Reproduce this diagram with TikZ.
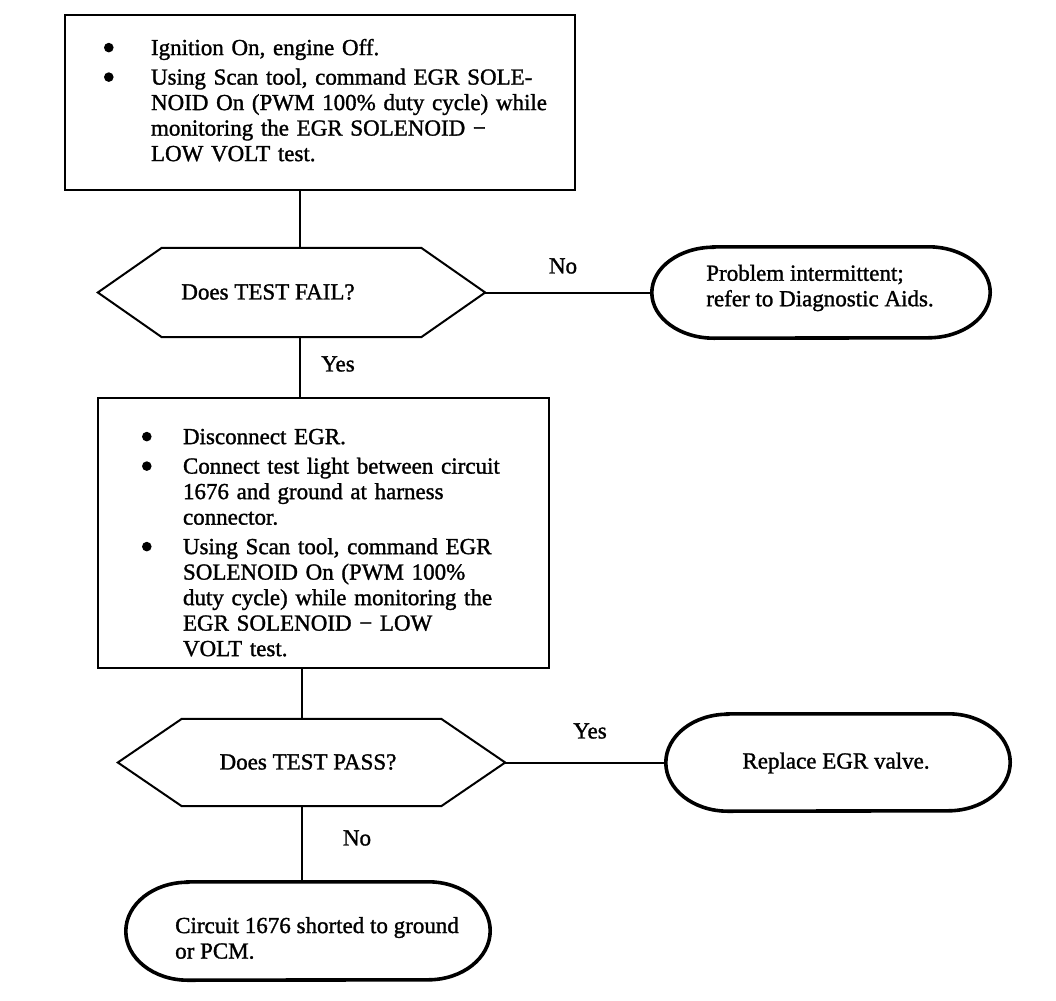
\documentclass[tikz,border=0pt]{standalone}
\usepackage{fontspec}
\setmainfont{Liberation Serif}[RawFeature={embolden=1.3}]
\usetikzlibrary{calc}
\newcommand\bul{\tikz[baseline=-7.5pt]\fill (0pt,0pt) circle (4.8pt);}
\newcommand\mns{\char"2212}
\newcommand\ovalpath[3]{%
  \draw[ovalline] ([xshift=#2]#1.north west) -- ([xshift=-#2]#1.north east)
    arc[start angle=90,end angle=-90,x radius=#2,y radius=#3]
    -- ([xshift=#2]#1.south west)
    arc[start angle=270,end angle=90,x radius=#2,y radius=#3] -- cycle;}
\newcommand\hexpath[2]{%
  \draw[hexline] (#1.west) -- ([xshift=#2]#1.north west) -- ([xshift=-#2]#1.north east)
    -- (#1.east) -- ([xshift=-#2]#1.south east) -- ([xshift=#2]#1.south west) -- cycle;}
\begin{document}
\begin{tikzpicture}[x=1pt,y=-1pt,
  every node/.style={font=\fontsize{23}{25.5}\selectfont},
  boxnode/.style={draw, line width=2pt, align=left, inner ysep=0pt},
  frame/.style={draw=none, inner sep=0pt},
  hexline/.style={line width=2pt, line join=miter},
  ovalline/.style={line width=3.6pt},
  conn/.style={line width=2pt},
  lbl/.style={inner sep=0pt},
  txt/.style={inner sep=0pt, align=left}]
\fill[white] (0,0) rectangle (1056,1000);
\useasboundingbox (0,0) rectangle (1056,1000);

% Box 1
\node[boxnode, text width=432pt, inner xsep=39pt, minimum height=175pt] (b1) at (320,103) {%
\begin{tabular}{@{}p{47pt}@{}l@{}}
\bul & Ignition On, engine Off.\\[4pt]
\bul & Using Scan tool, command EGR SOLE-\\
 & NOID On (PWM 100\% duty cycle) while\\
 & monitoring the EGR SOLENOID \mns\\
 & LOW VOLT test.
\end{tabular}};

% Decision 1
\node[frame, minimum width=387pt, minimum height=89pt] (d1) at (291.5,292.5) {};
\hexpath{d1}{64pt}
\node[lbl] (d1t) at (268,292) {Does TEST FAIL?};

% Oval 1
\node[frame, minimum width=338pt, minimum height=91pt] (o1) at (821,292.5) {};
\ovalpath{o1}{62pt}{45.5pt}
\node[txt] (o1t) at (820,288) {Problem intermittent;\\refer to Diagnostic Aids.};

% Box 2
\node[boxnode, text width=363pt, inner xsep=44pt, minimum height=270pt] (b2) at (323.5,533) {%
\raisebox{-12pt}[\height][\depth]{%
\begin{tabular}{@{}p{41pt}@{}l@{}}
\bul & Disconnect EGR.\\[4pt]
\bul & Connect test light between circuit\\
 & 1676 and ground at harness\\
 & connector.\\[4pt]
\bul & Using Scan tool, command EGR\\
 & SOLENOID On (PWM 100\%\\
 & duty cycle) while monitoring the\\
 & EGR SOLENOID \mns{} LOW\\
 & VOLT test.
\end{tabular}}};

% Decision 2
\node[frame, minimum width=387pt, minimum height=87pt] (d2) at (311.5,762.5) {};
\hexpath{d2}{64pt}
\node[lbl] (d2t) at (308,762) {Does TEST PASS?};

% Oval 2
\node[frame, minimum width=344pt, minimum height=97pt] (o2) at (838,762.5) {};
\ovalpath{o2}{62pt}{48.5pt}
\node[lbl] (o2t) at (836,763) {Replace EGR valve.};

% Oval 3
\node[frame, minimum width=364pt, minimum height=98pt] (o3) at (308,931) {};
\ovalpath{o3}{62pt}{49pt}
\node[txt, anchor=west] (o3t) at (175,938) {Circuit 1676 shorted to ground\\or PCM.};

% Connectors
\coordinate (tx) at (300,0);
\coordinate (ty) at (302,0);
\draw[conn] (tx |- b1.south) -- (tx |- d1.north);
\draw[conn] (d1.east) -- (o1.west);
\draw[conn] (tx |- d1.south) -- (tx |- b2.north);
\draw[conn] (ty |- b2.south) -- (ty |- d2.north);
\draw[conn] (d2.east) -- (o2.west);
\draw[conn] (ty |- d2.south) -- (ty |- o3.north);

% Labels
\node[lbl] (l1) at (563,266) {No};
\node[lbl] (l2) at (338,364) {Yes};
\node[lbl] (l3) at (590,731) {Yes};
\node[lbl] (l4) at (357,838) {No};
\end{tikzpicture}
\end{document}
